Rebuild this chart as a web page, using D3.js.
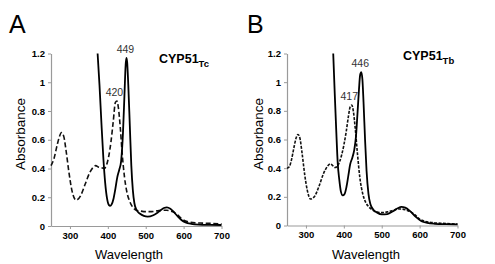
<!DOCTYPE html>
<html><head><meta charset="utf-8">
<script src="https://cdn.jsdelivr.net/npm/d3@7"></script>
<style>body{margin:0;background:#fff}svg{display:block}</style>
</head><body>
<svg id="c" width="495" height="264"></svg>
<script>
// ---- data ----
const xTicks = [300, 400, 500, 600, 700];
const yTicks = [0, 0.2, 0.4, 0.6, 0.8, 1, 1.2];

// Panel A (CYP51 Tc)
const wlA_solid = [373,378,383,388,393,398,403,406,410,415,420,425,430,435,440,444,447,449,451,454,458,462,466,470,476,485,495,505,520,535,548,556,565,575,585,595,605,620,640,670,700];
const absA_solid = [1.2,0.98,0.72,0.48,0.3,0.19,0.145,0.14,0.15,0.19,0.26,0.34,0.39,0.45,0.65,0.92,1.12,1.17,1.14,0.98,0.7,0.42,0.25,0.16,0.11,0.085,0.07,0.065,0.075,0.1,0.125,0.13,0.12,0.095,0.065,0.04,0.025,0.015,0.01,0.008,0.007];
const wlA_dash = [250,258,266,272,278,284,290,297,305,316,328,340,352,362,368,375,383,390,396,402,408,414,420,424,428,433,438,444,450,458,466,475,485,500,515,530,545,555,565,575,585,595,605,615,630,650,675,700];
const absA_dash = [0.42,0.47,0.56,0.62,0.65,0.62,0.52,0.38,0.25,0.18,0.21,0.29,0.37,0.41,0.42,0.41,0.405,0.40,0.42,0.48,0.58,0.72,0.86,0.87,0.82,0.68,0.5,0.34,0.24,0.17,0.13,0.11,0.105,0.1,0.1,0.105,0.11,0.11,0.105,0.095,0.075,0.05,0.035,0.028,0.022,0.02,0.018,0.015];

// Panel B (CYP51 Tb)
const wlB_solid = [372,376,380,384,388,392,397,402,407,412,417,422,427,432,436,440,443,446,449,452,456,460,465,470,478,488,500,515,530,542,552,562,575,590,605,620,640,670,700];
const absB_solid = [1.2,0.92,0.66,0.43,0.32,0.24,0.21,0.22,0.27,0.35,0.43,0.47,0.52,0.62,0.78,0.95,1.05,1.07,1.02,0.86,0.6,0.38,0.22,0.15,0.11,0.09,0.078,0.08,0.1,0.12,0.13,0.125,0.1,0.06,0.03,0.018,0.012,0.009,0.008];
const wlB_dash = [250,256,262,268,274,279,284,290,297,304,312,322,334,346,356,364,370,376,382,388,394,400,406,412,417,421,425,430,436,442,450,458,466,475,485,500,515,530,542,552,562,572,585,600,615,635,660,700];
const absB_dash = [0.40,0.41,0.46,0.54,0.61,0.635,0.61,0.5,0.35,0.24,0.185,0.2,0.27,0.36,0.41,0.43,0.42,0.405,0.41,0.44,0.49,0.56,0.65,0.76,0.83,0.84,0.8,0.68,0.5,0.34,0.22,0.16,0.13,0.11,0.095,0.09,0.095,0.105,0.115,0.115,0.11,0.1,0.08,0.045,0.028,0.02,0.015,0.01];

const panels = [
  {letter:"A", name:"CYP51", sub:"Tc", x0:51, x1:221.5, y0:226, y1:53.5,
   solid:[wlA_solid, absA_solid], dash:[wlA_dash, absA_dash], dashArr:"5,2.6",
   peaks:[{w:449, v:1.17, t:"449"}, {w:420, v:0.87, t:"420"}],
   letterX:9, titleX:159, titleY:63, axTitleX:20, wlX:129},
  {letter:"B", name:"CYP51", sub:"Tb", x0:287, x1:457.5, y0:225.5, y1:53.5,
   solid:[wlB_solid, absB_solid], dash:[wlB_dash, absB_dash], dashArr:"3,1.4",
   peaks:[{w:446, v:1.07, t:"446"}, {w:417, v:0.84, t:"417"}],
   letterX:247, titleX:403, titleY:60, axTitleX:258, wlX:366}
];

const svg = d3.select("#c");
const font = "Liberation Sans, Arial, Helvetica, sans-serif";

panels.forEach(p => {
  const x = d3.scaleLinear().domain([250, 700]).range([p.x0, p.x1]);
  const y = d3.scaleLinear().domain([0, 1.2]).range([p.y0, p.y1]);
  const g = svg.append("g");

  const ax = g.append("g").attr("transform", `translate(0,${p.y0})`)
    .call(d3.axisBottom(x).tickValues(xTicks).tickSize(3).tickSizeOuter(0).tickPadding(3));
  const ay = g.append("g").attr("transform", `translate(${p.x0},0)`)
    .call(d3.axisLeft(y).tickValues(yTicks).tickSize(3).tickSizeOuter(0).tickPadding(3)
      .tickFormat(d => String(+d.toFixed(1))));
  [ax, ay].forEach(a => {
    a.select(".domain").attr("stroke", "#9a9a9a").attr("stroke-width", 1.2);
    a.selectAll(".tick line").attr("stroke", "#9a9a9a");
    a.selectAll("text").attr("fill", "#000").style("font-family", font)
      .style("font-weight", "bold").style("font-size", "9.5px");
  });

  const line = d3.line().x(d => x(d[0])).y(d => y(d[1])).curve(d3.curveMonotoneX);
  const dashData = p.dash[0].map((w, i) => [w, p.dash[1][i]]);
  const solidData = p.solid[0].map((w, i) => [w, p.solid[1][i]]);
  g.append("path").datum(dashData).attr("d", line).attr("fill", "none")
    .attr("stroke", "#111").attr("stroke-width", 1.6).attr("stroke-dasharray", p.dashArr);
  g.append("path").datum(solidData).attr("d", line).attr("fill", "none")
    .attr("stroke", "#000").attr("stroke-width", 1.8);

  p.peaks.forEach(pk => {
    g.append("text").attr("x", x(pk.w) - 1).attr("y", y(pk.v) - 5)
      .attr("text-anchor", "middle").style("font-family", font).style("font-size", "10.5px")
      .attr("fill", "#333").text(pk.t);
  });

  g.append("text").attr("x", p.letterX).attr("y", 33).style("font-family", font)
    .style("font-size", "25px").attr("fill", "#000").text(p.letter);

  const t = g.append("text").attr("x", p.titleX).attr("y", p.titleY)
    .style("font-family", font).style("font-weight", "bold").style("font-size", "12.5px").attr("fill", "#000");
  t.append("tspan").text(p.name);
  t.append("tspan").attr("dy", 4).style("font-size", "9.5px").text(p.sub);

  g.append("text").attr("transform", `translate(${p.axTitleX + 4.5},134) rotate(-90)`)
    .attr("text-anchor", "middle").style("font-family", font).style("font-size", "13.5px")
    .attr("fill", "#000").text("Absorbance");
  g.append("text").attr("x", p.wlX).attr("y", 259).attr("text-anchor", "middle")
    .style("font-family", font).style("font-size", "13px").attr("fill", "#000").text("Wavelength");
});
</script>
</body></html>
